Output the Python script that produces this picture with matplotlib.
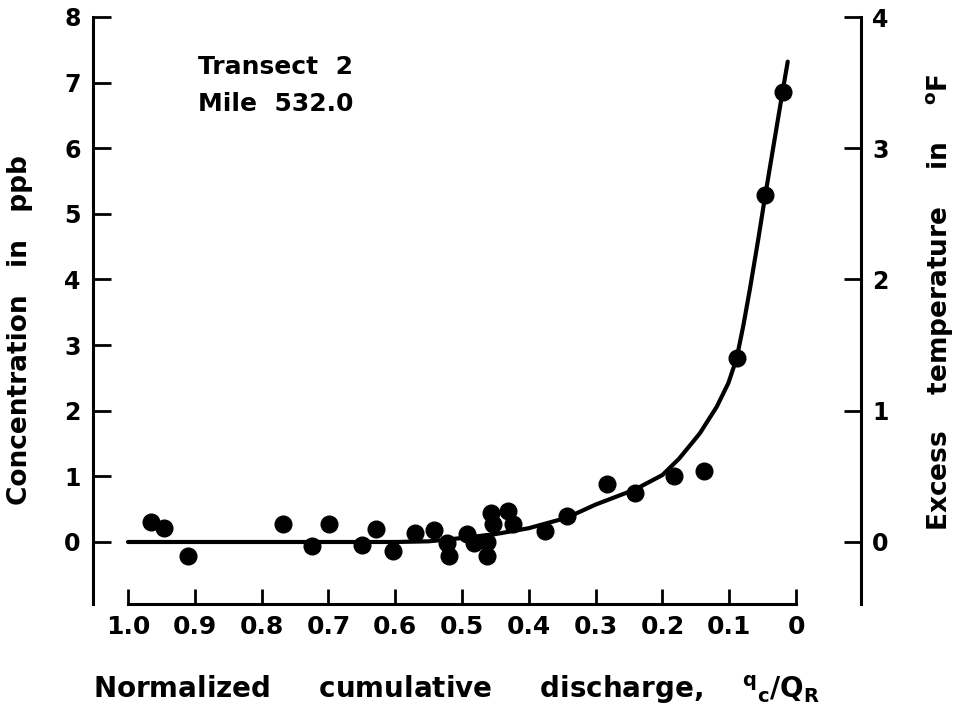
import matplotlib
matplotlib.use("Agg")
import matplotlib.pyplot as plt

# measured concentrations along the transect
q_ratio = [0.965, 0.946, 0.910, 0.768, 0.724, 0.699, 0.650, 0.628, 0.603,
           0.571, 0.542, 0.523, 0.520, 0.493, 0.482, 0.463, 0.462, 0.456,
           0.453, 0.431, 0.423, 0.376, 0.343, 0.283, 0.241, 0.182, 0.138,
           0.089, 0.047, 0.020]
conc = [0.31, 0.21, -0.21, 0.27, -0.06, 0.27, -0.05, 0.20, -0.14,
        0.13, 0.19, -0.02, -0.22, 0.12, -0.02, 0.00, -0.21, 0.44,
        0.27, 0.47, 0.28, 0.16, 0.39, 0.88, 0.74, 1.00, 1.08,
        2.80, 5.28, 6.85]

# hand-fitted curve through the data
fit_x = [1.0, 0.8, 0.6, 0.55, 0.5, 0.45, 0.4, 0.343, 0.3, 0.241, 0.2,
         0.175, 0.154, 0.1437, 0.1187, 0.1013, 0.0888, 0.0788, 0.0689,
         0.0564, 0.0464, 0.0305, 0.020, 0.0124]
fit_y = [0.0, 0.0, 0.0, 0.01, 0.06, 0.12, 0.21, 0.37, 0.57, 0.80, 1.02,
         1.27, 1.53, 1.66, 2.06, 2.42, 2.80, 3.30, 3.86,
         4.62, 5.26, 6.23, 6.87, 7.32]

x_ticks = [1.0, 0.9, 0.8, 0.7, 0.6, 0.5, 0.4, 0.3, 0.2, 0.1, 0.0]
x_labels = ["1.0", "0.9", "0.8", "0.7", "0.6", "0.5", "0.4", "0.3", "0.2", "0.1", "0"]
conc_ticks = [0, 1, 2, 3, 4, 5, 6, 7, 8]
temp_ticks = [0, 1, 2, 3, 4]

plt.rcParams['font.family'] = ['DejaVu Sans']
plt.rcParams['font.weight'] = 'bold'

W, H = 954, 719
fig = plt.figure(figsize=(W / 100, H / 100), dpi=100)
ax = fig.add_axes([93 / W, 1 - 604 / H, (861 - 93) / W, (604 - 17) / H])

ax.plot(fit_x, fit_y, color='black', lw=3, solid_joinstyle='round',
        solid_capstyle='round', zorder=2)
ax.plot(q_ratio, conc, 'o', color='black', ms=12, zorder=3)

ax.set_xlim(1.0524, -0.0973)
ax.set_ylim(-0.945, 8.0)

for s in ['top', 'right']:
    ax.spines[s].set_visible(False)
ax.spines['bottom'].set_bounds(0.0, 1.0)
ax.spines['left'].set_linewidth(2.2)
ax.spines['bottom'].set_linewidth(2.2)

ax.set_xticks(x_ticks)
ax.set_xticklabels(x_labels)
ax.set_yticks(conc_ticks)
ax.tick_params(axis='x', direction='in', length=11, width=2, labelsize=18, pad=8)
ax.tick_params(axis='y', direction='in', length=13, width=2, labelsize=17, pad=9)

ax2 = ax.twinx()
ax2.set_ylim(-0.945 / 2, 4.0)
for s in ['top', 'left', 'bottom']:
    ax2.spines[s].set_visible(False)
ax2.spines['right'].set_linewidth(2.2)
ax2.set_yticks(temp_ticks)
ax2.tick_params(axis='y', direction='in', length=12, width=2, labelsize=17, pad=8)

fig.text(20 / W, 1 - 330 / H, "Concentration   in   ppb", rotation=90,
         ha='center', va='center', fontsize=19, fontweight='bold')
fig.text(940 / W, 1 - 302 / H, r"Excess    temperature    in    $^{\mathregular{o}}$F",
         rotation=90, ha='center', va='center', fontsize=19, fontweight='bold')
fig.text(457 / W, 1 - 690 / H,
         r"Normalized     cumulative     discharge,    $\mathregular{^{q}{}_{c}/Q_{R}}$",
         ha='center', va='center', fontsize=20, fontweight='bold')

ax.text(198 / W, 1 - 67 / H, "Transect  2", transform=fig.transFigure,
        ha='left', va='center', fontsize=18, fontweight='bold')
ax.text(198 / W, 1 - 104 / H, "Mile  532.0", transform=fig.transFigure,
        ha='left', va='center', fontsize=18, fontweight='bold')

fig.savefig("out.png", dpi=100)
